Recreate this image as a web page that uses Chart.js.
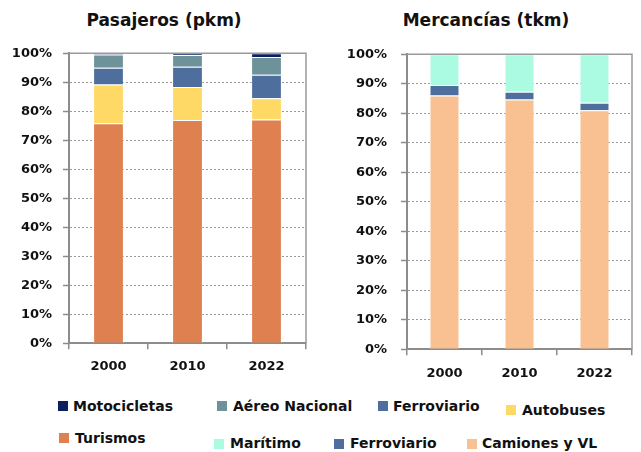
<!DOCTYPE html>
<html lang="es">
<head>
<meta charset="utf-8">
<title>Pasajeros y Mercancías</title>
<script src="https://cdn.jsdelivr.net/npm/chart.js@4.4.1/dist/chart.umd.min.js"></script>
<style>
  html, body { margin: 0; padding: 0; background: #fff; }
  body { width: 641px; height: 452px; position: relative; overflow: hidden; font-family: "DejaVu Sans", sans-serif; }
  .caja { position: absolute; top: 0; height: 390px; }
  #cajaPasajeros { left: 0; width: 320px; }
  #cajaMercancias { left: 320px; width: 321px; }
  .titulo { position: absolute; top: 10px; width: 240px; margin-left: -120px; text-align: center; font-size: 17px; font-weight: bold; line-height: 20px; color: #111; }
  .cuadro { position: absolute; width: 10px; height: 10px; }
  .texto { position: absolute; font-size: 14px; font-weight: bold; line-height: 16px; color: #111; white-space: nowrap; }
</style>
</head>
<body>
<div class="titulo" id="tituloPasajeros" style="left:164px"></div>
<div class="titulo" id="tituloMercancias" style="left:486px"></div>
<div class="caja" id="cajaPasajeros"><canvas id="graficoPasajeros"></canvas></div>
<div class="caja" id="cajaMercancias"><canvas id="graficoMercancias"></canvas></div>
<div id="leyenda"></div>

<script>
const anos = ["2000", "2010", "2022"];

// pasajeros (% pkm), de abajo arriba
const turismos = [75.9, 77.0, 77.2];
const autobuses = [13.3, 11.4, 7.3];
const ferroviarioPas = [5.8, 7.0, 8.1];
const aereoNacional = [4.6, 4.0, 6.1];
const motocicletas = [0.4, 0.6, 1.3];

// mercancías (% tkm), de abajo arriba
const camiones = [86.0, 84.7, 81.0];
const ferroviarioMer = [3.6, 2.6, 2.6];
const maritimo = [10.4, 12.7, 16.4];

const ticksY = [0, 10, 20, 30, 40, 50, 60, 70, 80, 90, 100];

const seriesPasajeros = [
  { label: "Turismos", data: turismos, color: "#DF8050" },
  { label: "Autobuses", data: autobuses, color: "#FFD966" },
  { label: "Ferroviario", data: ferroviarioPas, color: "#4E6F9E" },
  { label: "Aéreo Nacional", data: aereoNacional, color: "#6E9299" },
  { label: "Motocicletas", data: motocicletas, color: "#0C1F5E" }
];

const seriesMercancias = [
  { label: "Camiones y VL", data: camiones, color: "#F9C091" },
  { label: "Ferroviario", data: ferroviarioMer, color: "#4E6F9E" },
  { label: "Marítimo", data: maritimo, color: "#AAFBE2" }
];

const gris = "#8c8c8c";
const fuente = "'DejaVu Sans', sans-serif";

// marco gris arriba y a la derecha del área del gráfico
const marcoPlugin = {
  id: "marco",
  afterDatasetsDraw(chart) {
    const { ctx, chartArea: a } = chart;
    ctx.save();
    ctx.strokeStyle = "#9a9a9a";
    ctx.lineWidth = 1.5;
    ctx.beginPath();
    ctx.moveTo(a.left, a.top);
    ctx.lineTo(a.right, a.top);
    ctx.lineTo(a.right, a.bottom);
    ctx.stroke();
    ctx.restore();
  }
};

document.addEventListener("DOMContentLoaded", () => {
  document.getElementById("tituloPasajeros").innerText = "Pasajeros (pkm)";
  document.getElementById("tituloMercancias").innerText = "Mercancías (tkm)";
  crearGrafico("graficoPasajeros", seriesPasajeros, {
    padArriba: 53.3, padDer: 14, anchoY: 69, altoX: 46.7, barra: 0.39, padY: 11, padX: 10
  });
  crearGrafico("graficoMercancias", seriesMercancias, {
    padArriba: 54.3, padDer: 9, anchoY: 87, altoX: 40.7, barra: 0.4, padY: 14, padX: 11
  });
  pintarLeyenda();
});

function crearGrafico(id, series, g) {
  const ctx = document.getElementById(id).getContext("2d");
  return new Chart(ctx, {
    type: "bar",
    data: {
      labels: anos,
      datasets: series.map(s => ({
        label: s.label,
        data: s.data,
        backgroundColor: s.color,
        borderColor: "rgba(255,255,255,0.45)",
        borderWidth: 1,
        categoryPercentage: 1,
        barPercentage: g.barra
      }))
    },
    options: {
      responsive: true,
      maintainAspectRatio: false,
      animation: false,
      layout: { padding: { left: 0, right: g.padDer, top: g.padArriba, bottom: 0 } },
      plugins: {
        legend: { display: false },
        tooltip: { enabled: false }
      },
      scales: {
        x: {
          stacked: true,
          afterFit: s => { s.height = g.altoX; },
          grid: { drawOnChartArea: false, drawTicks: true, tickLength: 6, color: gris, lineWidth: 1.5 },
          border: { color: gris, width: 2 },
          ticks: { color: "#111", padding: g.padX, font: { family: fuente, size: 13, weight: "bold" } }
        },
        y: {
          stacked: true,
          min: ticksY[0],
          max: ticksY[ticksY.length - 1],
          afterFit: s => { s.width = g.anchoY; },
          afterBuildTicks: s => { s.ticks = ticksY.map(v => ({ value: v })); },
          grid: { color: "#9a9a9a", lineWidth: 1, tickLength: 6, tickColor: gris, tickWidth: 1.5 },
          border: { color: gris, width: 2, dash: [2, 2] },
          ticks: {
            color: "#111",
            padding: g.padY,
            font: { family: fuente, size: 13, weight: "bold" },
            callback: v => v + "%"
          }
        }
      }
    },
    plugins: [marcoPlugin]
  });
}

function pintarLeyenda() {
  // orden de la leyenda original y sitio de cada entrada: [cuadroX, cuadroY, textoX, textoCentroY]
  const entradas = [...seriesPasajeros].reverse().concat([...seriesMercancias].reverse());
  const posiciones = [
    [58, 401, 73, 406], [217, 401, 233, 406], [378, 401, 393, 406], [506, 405, 522, 410],
    [59, 433, 75, 438], [214, 439, 230, 443], [334, 439, 350, 443], [467, 439, 482, 443]
  ];
  const cont = document.getElementById("leyenda");
  entradas.forEach((s, i) => {
    const p = posiciones[i];
    const cuadro = document.createElement("div");
    cuadro.className = "cuadro";
    cuadro.style.left = p[0] + "px";
    cuadro.style.top = p[1] + "px";
    cuadro.style.background = s.color;
    const texto = document.createElement("div");
    texto.className = "texto";
    texto.style.left = p[2] + "px";
    texto.style.top = (p[3] - 8) + "px";
    texto.innerText = s.label;
    cont.appendChild(cuadro);
    cont.appendChild(texto);
  });
}
</script>
</body>
</html>
